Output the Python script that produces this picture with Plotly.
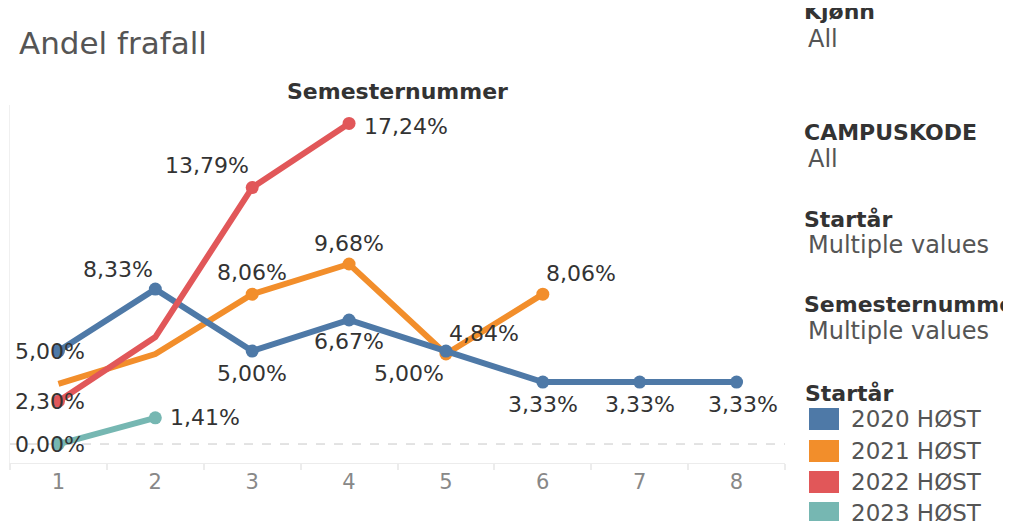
import plotly.graph_objects as go

# ---------------- data ----------------
semesters = [1, 2, 3, 4, 5, 6, 7, 8]
series_names = ["2020 HØST", "2021 HØST", "2022 HØST", "2023 HØST"]
v2020 = [5.00, 8.33, 5.00, 6.67, 5.00, 3.33, 3.33, 3.33]
v2021 = [3.23, 4.84, 8.06, 9.68, 4.84, 8.06]
v2022 = [2.30, 5.75, 13.79, 17.24]
v2023 = [0.00, 1.41]
# which points carry a data label (Tableau hides overlapping ones)
lab2020 = [True, True, True, True, True, True, True, True]
lab2021 = [False, False, True, True, True, True]
lab2022 = [True, False, True, True]
lab2023 = [True, True]

filter_titles = ["Kjønn", "CAMPUSKODE", "Startår", "Semesternummer"]
filter_values = ["All", "All", "Multiple values", "Multiple values"]

# ---------------- style ----------------
colors = ["#4E79A7", "#F28E2B", "#E15759", "#76B7B2"]
FONT = "DejaVu Sans"
OFF = 8                      # page body margin of the html page
W, H = 1011 - OFF, 521 - OFF
L, R, T, B = 10, 785, 105, 463  # plot area in reference pixels

# label placement per series/point: (xanchor, xshift, yshift)
place = {
    0: [("center", -8, 0), ("right", 0, 20), ("center", 0, -22), ("center", 0, -22),
        ("right", 0, -22), ("center", 0, -22), ("center", 0, -22), ("center", 6, -22)],
    1: [None, None, ("center", 0, 22), ("center", 0, 21), ("left", 1, 21), ("left", 1, 21)],
    2: [("center", -8, 0), None, ("right", -1, 22), ("left", 13, -3)],
    3: [("center", -8, 0), ("left", 13, 0)],
}

values = [v2020, v2021, v2022, v2023]
labels = [lab2020, lab2021, lab2022, lab2023]


def px(x):
    return (x - L) / (R - L)


def py(y):
    return (B - y) / (B - T)


def fmt(v):
    return f"{v:.2f}".replace(".", ",") + "%"


fig = go.Figure()

# draw order: orange, blue, red, teal (red over blue over orange)
for i in [1, 0, 2, 3]:
    vals = values[i]
    xs = semesters[:len(vals)]
    fig.add_trace(go.Scatter(
        x=xs, y=vals, mode="lines+markers", name=series_names[i],
        line=dict(color=colors[i], width=6),
        marker=dict(color=colors[i], size=[13 if l else 0 for l in labels[i]],
                    opacity=1, line=dict(width=0)),
        showlegend=False, hoverinfo="x+y",
    ))

annotations = []
for i, vals in enumerate(values):
    for j, v in enumerate(vals):
        if not labels[i][j]:
            continue
        xa, xs_, ys_ = place[i][j]
        annotations.append(dict(
            x=semesters[j], y=v, xref="x", yref="y", text=fmt(v), showarrow=False,
            xanchor=xa, yanchor="middle", xshift=xs_, yshift=ys_,
            font=dict(family=FONT, size=22, color="#333333"),
        ))

# titles
annotations.append(dict(x=px(17), y=py(43), xref="paper", yref="paper", text="Andel frafall",
                        showarrow=False, xanchor="left", yanchor="middle",
                        font=dict(family=FONT, size=31, color="#555555")))
annotations.append(dict(x=px(397), y=py(91), xref="paper", yref="paper", text="<b>Semesternummer</b>",
                        showarrow=False, xanchor="center", yanchor="middle",
                        font=dict(family=FONT, size=22, color="#333333")))

# right filter panel
title_y = [12, 132, 219, 304]
value_y = [39, 159, 245, 331]
for t, v, ty, vy in zip(filter_titles, filter_values, title_y, value_y):
    annotations.append(dict(x=px(802), y=py(ty), xref="paper", yref="paper", text=f"<b>{t}</b>",
                            showarrow=False, xanchor="left", yanchor="middle",
                            font=dict(family=FONT, size=22, color="#333333")))
    annotations.append(dict(x=px(806), y=py(vy), xref="paper", yref="paper", text=v,
                            showarrow=False, xanchor="left", yanchor="middle",
                            font=dict(family=FONT, size=24, color="#555555")))

# legend
annotations.append(dict(x=px(803), y=py(393), xref="paper", yref="paper", text="<b>Startår</b>",
                        showarrow=False, xanchor="left", yanchor="middle",
                        font=dict(family=FONT, size=22, color="#333333")))
shapes = []
leg_y = [419, 451, 482, 513]
for name, c, ly in zip(series_names, colors, leg_y):
    shapes.append(dict(type="rect", xref="paper", yref="paper",
                       x0=px(809), x1=px(839), y0=py(ly - 11), y1=py(ly + 11),
                       fillcolor=c, line=dict(width=0)))
    annotations.append(dict(x=px(849), y=py(ly), xref="paper", yref="paper", text=name,
                            showarrow=False, xanchor="left", yanchor="middle",
                            font=dict(family=FONT, size=23, color="#555555")))

# zero reference line (dashed)
shapes.append(dict(type="line", xref="paper", yref="y", x0=0, x1=1, y0=0, y1=0,
                   line=dict(color="#c8c8c8", width=1, dash="dash"), layer="below"))

fig.update_layout(
    width=W, height=H,
    margin=dict(l=L - OFF, r=1011 - R, t=T - OFF, b=521 - B, pad=0),
    paper_bgcolor="white", plot_bgcolor="white",
    annotations=annotations, shapes=shapes,
    showlegend=False,
    xaxis=dict(range=[0.5, 8.5], tickvals=semesters, ticktext=[str(s) for s in semesters],
               showgrid=False, zeroline=False, showline=True, linecolor="#ececec", linewidth=1,
               ticks="", tickfont=dict(family=FONT, size=21, color="#888888"),
               minor=dict(tick0=0.5, dtick=1, ticks="outside", ticklen=6, tickcolor="#ececec",
                          tickwidth=2, showgrid=False)),
    yaxis=dict(range=[-1.02, 18.23], showgrid=False, zeroline=False, showticklabels=False,
               showline=True, linecolor="#f0f0f0", linewidth=1, ticks=""),
)

fig.write_html("out.html")
